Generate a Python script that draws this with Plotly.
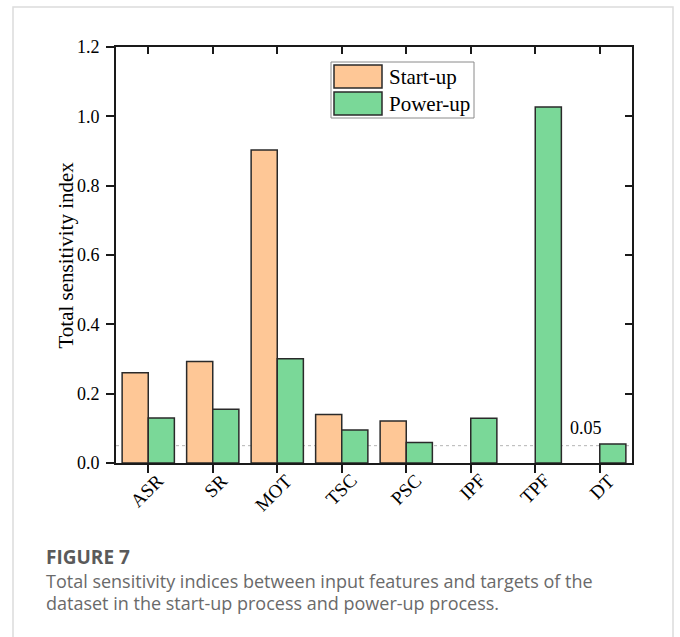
import plotly.graph_objects as go

categories = ["ASR", "SR", "MOT", "TSC", "PSC", "IPF", "TPF", "DT"]
startup = [0.260, 0.293, 0.903, 0.140, 0.121, None, None, None]
powerup = [0.130, 0.155, 0.301, 0.095, 0.059, 0.129, 1.027, 0.055]
series_names = ["Start-up", "Power-up"]
threshold = 0.05
y_ticks = [0.0, 0.2, 0.4, 0.6, 0.8, 1.0, 1.2]

ORANGE = "#FEC796"
GREEN = "#7AD898"
EDGE = "#2a2a2a"
SERIF = "Liberation Serif"

# plot-area pixel geometry (for paper-coordinate decorations)
W, H = 680, 637
L, R, T, B = 116, 632, 47, 463
PW, PH = R - L, B - T


def px(x):
    return (x - L) / PW


def py(y):
    return (B - y) / PH


fig = go.Figure()
fig.add_trace(go.Bar(x=categories, y=startup, name=series_names[0],
                     marker=dict(color=ORANGE, line=dict(color=EDGE, width=1.5)),
                     showlegend=False))
fig.add_trace(go.Bar(x=categories, y=powerup, name=series_names[1],
                     marker=dict(color=GREEN, line=dict(color=EDGE, width=1.5)),
                     showlegend=False))
# invisible trace to carry the mirrored (inside) tick axes
fig.add_trace(go.Scatter(x=categories, y=[0] * len(categories), xaxis="x2", yaxis="y2",
                         mode="markers", marker=dict(opacity=0), hoverinfo="skip",
                         showlegend=False))

axis_font = dict(family=SERIF, size=18, color="black")

fig.update_layout(
    width=W, height=H,
    margin=dict(l=L, r=W - R, t=T, b=H - B, pad=0),
    paper_bgcolor="white", plot_bgcolor="white",
    barmode="group", bargap=0.19, bargroupgap=0,
    xaxis=dict(type="category", categoryorder="array", categoryarray=categories,
               range=[-0.5, len(categories) - 0.5],
               showline=True, linecolor="#1a1a1a", linewidth=2, mirror=True,
               ticks="outside", ticklen=8, tickwidth=2, tickcolor="#1a1a1a",
               showticklabels=False, showgrid=False, zeroline=False),
    yaxis=dict(range=[0, 1.2], tickvals=y_ticks, tickformat=".1f",
               showline=True, linecolor="#1a1a1a", linewidth=2, mirror=True,
               ticks="outside", ticklen=8, tickwidth=2, tickcolor="#1a1a1a",
               ticklabelstandoff=3,
               tickfont=axis_font, showgrid=False, zeroline=False),
    xaxis2=dict(type="category", categoryorder="array", categoryarray=categories,
                range=[-0.5, len(categories) - 0.5], overlaying="x", side="top",
                anchor="y2", showline=False, ticks="inside", ticklen=7, tickwidth=2,
                tickcolor="#1a1a1a", showticklabels=False, showgrid=False, zeroline=False),
    yaxis2=dict(range=[0, 1.2], tickvals=y_ticks, overlaying="y", side="right",
                anchor="x2", showline=False, ticks="inside", ticklen=7, tickwidth=2,
                tickcolor="#1a1a1a", showticklabels=False, showgrid=False, zeroline=False),
)

shapes = []
# outer card border
shapes.append(dict(type="rect", xref="paper", yref="paper",
                   x0=px(13), x1=px(673), y0=py(7), y1=py(660),
                   line=dict(color="#dcdcdc", width=1.5), fillcolor="rgba(0,0,0,0)",
                   layer="below"))
# threshold line
shapes.append(dict(type="line", xref="paper", yref="y", x0=0, x1=1,
                   y0=threshold, y1=threshold,
                   line=dict(color="#b5b5b5", width=1, dash="dot"), layer="below"))
# custom legend
shapes.append(dict(type="rect", xref="paper", yref="paper",
                   x0=px(331), x1=px(474), y0=py(62), y1=py(118),
                   line=dict(color="#8a8a8a", width=1), fillcolor="white"))
shapes.append(dict(type="rect", xref="paper", yref="paper",
                   x0=px(334), x1=px(382), y0=py(65), y1=py(88),
                   line=dict(color=EDGE, width=1.5), fillcolor=ORANGE))
shapes.append(dict(type="rect", xref="paper", yref="paper",
                   x0=px(334), x1=px(382), y0=py(92), y1=py(115),
                   line=dict(color=EDGE, width=1.5), fillcolor=GREEN))
fig.update_layout(shapes=shapes)

legend_font = dict(family=SERIF, size=21, color="black")
ann = [
    dict(text=series_names[0], xref="paper", yref="paper", x=px(387), y=py(76.5),
         xanchor="left", yanchor="middle", showarrow=False, font=legend_font),
    dict(text=series_names[1], xref="paper", yref="paper", x=px(387), y=py(103.5),
         xanchor="left", yanchor="middle", showarrow=False, font=legend_font),
    dict(text="{:.2f}".format(threshold), xref="paper", yref="y", x=px(586), y=threshold,
         xanchor="center", yanchor="bottom", yshift=6, showarrow=False,
         font=dict(family=SERIF, size=18, color="black")),
    dict(text="Total sensitivity index", xref="paper", yref="paper", x=px(65.5), y=0.5,
         xanchor="center", yanchor="middle", textangle=-90, showarrow=False,
         font=dict(family=SERIF, size=21, color="black")),
    dict(text="<b>FIGURE 7</b>", xref="paper", yref="paper", x=px(44), y=py(557),
         xanchor="left", yanchor="middle", showarrow=False,
         font=dict(family="Open Sans", size=19, color="#5a5a5a")),
    dict(text="Total sensitivity indices between input features and targets of the",
         xref="paper", yref="paper", x=px(44), y=py(581), xanchor="left", yanchor="middle",
         showarrow=False, font=dict(family="Open Sans", size=18, color="#6a6a6a")),
    dict(text="dataset in the start-up process and power-up process.",
         xref="paper", yref="paper", x=px(44), y=py(603), xanchor="left", yanchor="middle",
         showarrow=False, font=dict(family="Open Sans", size=18, color="#6a6a6a")),
]
# rotated category labels, top-right end placed just right of each tick
for c in categories:
    ann.append(dict(text=c, xref="x", yref="paper", x=c, y=py(467),
                    xanchor="right", yanchor="top", xshift=22, textangle=-45,
                    showarrow=False, font=dict(family=SERIF, size=19, color="black")))
fig.update_layout(annotations=ann)

fig.write_html("out.html")
